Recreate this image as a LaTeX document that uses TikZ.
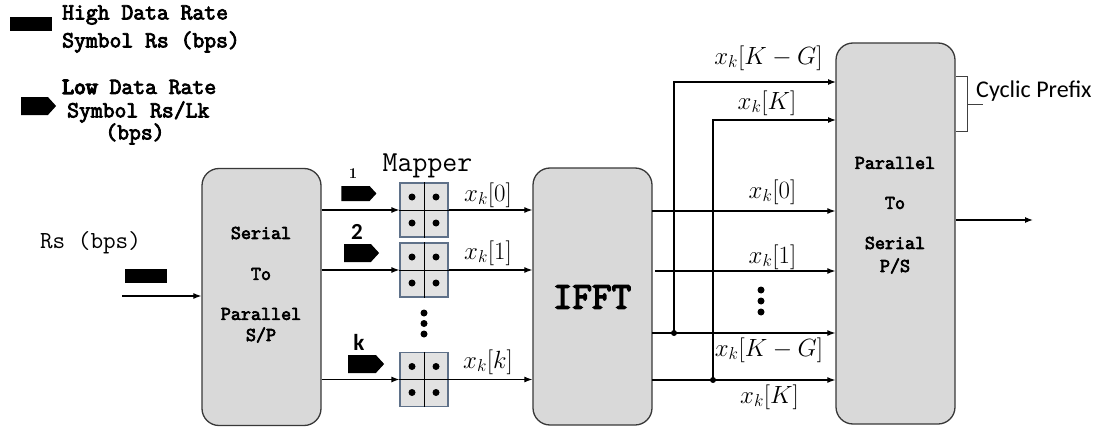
\documentclass[tikz,border=0pt]{standalone}
\usepackage{fontspec}
\newfontfamily\boldmono[FakeBold=3.5]{Latin Modern Mono}
\newfontfamily\heavymono[FakeBold=6]{Latin Modern Mono}
\newfontfamily\calib{Carlito}
\usetikzlibrary{arrows.meta,shapes.symbols}
\definecolor{boxgray}{HTML}{D9D9D9}
\definecolor{mapgray}{HTML}{E2E2E2}
\definecolor{mapblue}{HTML}{5F7189}
\begin{document}
\begin{tikzpicture}[x=1pt,y=-1pt,
 arr/.style={line width=1.2pt, -{Latex[length=8pt,width=6pt]}},
 bigbox/.style={draw=black!78, fill=boxgray, line width=1.3pt, rounded corners=17pt, minimum width=119pt, minimum height=257pt, inner sep=0pt},
 boxlbl/.style={font=\boldmono\fontsize{19.5}{22}\selectfont, inner sep=0pt},
 mapbox/.style={draw=mapblue, fill=mapgray, line width=1.1pt, minimum width=48pt, minimum height=54pt, inner sep=0pt},
 sig/.style={signal, signal to=east, fill=black, draw=none, inner sep=0pt, signal pointer angle=95},
 mlabel/.style={font=\fontsize{24.5}{28}\selectfont, inner sep=0pt},
 legtxt/.style={font=\boldmono\fontsize{23}{26}\selectfont, inner sep=0pt, anchor=west},
 jdot/.style={circle, fill=black, inner sep=0pt, minimum size=6pt},
 vdot/.style={circle, fill=black, inner sep=0pt, minimum size=7pt},
 qdot/.style={circle, fill=black, inner sep=0pt, minimum size=7pt},
]
\useasboundingbox (0,0) rectangle (1114,428);

% ---------- legend ----------
\node[fill=black, minimum width=42pt, minimum height=14pt, inner sep=0pt] (lbar) at (31,24) {};
\node[legtxt] (lt1) at (62,15) {High Data Rate};
\node[legtxt] (lt2) at (62,42) {Symbol Rs (bps)};
\node[sig, minimum width=35pt, minimum height=18pt] (lsig) at (34.5,106) {};
\node[legtxt] (lt3) at (62,87) {{\heavymono Low} Data Rate};
\node[legtxt] (lt4) at (67,112) {Symbol Rs/Lk};
\node[legtxt, anchor=center] (lt5) at (135,134) {(bps)};

% ---------- input ----------
\node[font=\ttfamily\fontsize{24.5}{28}\selectfont, inner sep=0pt] (rs) at (90.5,243) {Rs (bps)};
\node[fill=black, minimum width=42pt, minimum height=14pt, inner sep=0pt] (ibar) at (146,276) {};
\coordinate (in) at (122,296);

% ---------- S/P ----------
\node[bigbox] (sp) at (261.5,297) {};
\node[boxlbl] (sp1) at (261,233) {Serial};
\node[boxlbl] (sp2) at (261,274) {To};
\node[boxlbl] (sp3) at (261,314) {Parallel};
\node[boxlbl] (sp4) at (261,335) {S/P};
\draw[arr] (in) -- (in -| sp.west);

% ---------- mappers ----------
\node[font=\ttfamily\fontsize{29}{32}\selectfont, inner sep=0pt] (maplbl) at (427.5,166) {Mapper};
\foreach \n/\y in {m1/210, m2/270, m3/379.5}{
  \node[mapbox] (\n) at (424,\y) {};
  \draw[line width=1pt] (\n.north) -- (\n.south) (\n.west) -- (\n.east);
  \node[qdot] at ([shift={(-12,-13)}]\n.center) {};
  \node[qdot] at ([shift={(12,-13)}]\n.center) {};
  \node[qdot] at ([shift={(-12,13)}]\n.center) {};
  \node[qdot] at ([shift={(12,13)}]\n.center) {};
}
\node[vdot] (md1) at (424,313) {};
\node[vdot] (md2) at (424,323.5) {};
\node[vdot] (md3) at (424,334) {};

\node[sig, minimum width=35pt, minimum height=15pt] (s1) at (355.5,193.5) {};
\node[sig, minimum width=35pt, minimum height=18pt] (s2) at (357.5,253) {};
\node[sig, minimum width=36pt, minimum height=18pt] (s3) at (362,364) {};
\node[font=\bfseries\fontsize{15}{18}\selectfont, inner sep=0pt] (n1) at (353,174) {1};
\node[font=\calib\bfseries\fontsize{23}{26}\selectfont, inner sep=0pt] (n2) at (357,232) {2};
\node[font=\calib\bfseries\fontsize{23}{26}\selectfont, inner sep=0pt] (n3) at (359,342) {k};

\foreach \n in {m1,m2,m3}{
  \draw[arr] (sp.east |- \n) -- (\n.west);
}

% ---------- IFFT ----------
\node[bigbox] (ifft) at (592.5,296.5) {};
\node[font=\boldmono\fontsize{38}{42}\selectfont, inner sep=0pt] (ifftl) at (592,297) {IFFT};
\foreach \n in {m1,m2,m3}{
  \draw[arr] (\n.east) -- (\n -| ifft.west);
}
\node[mlabel] (a0) at (488,195) {$x_k[0]$};
\node[mlabel] (a1) at (488,253) {$x_k[1]$};
\node[mlabel] (a2) at (488,362) {$x_k[k]$};

% ---------- P/S ----------
\node[bigbox, minimum height=381pt] (ps) at (895.5,233.5) {};
\node[boxlbl] (ps1) at (895,163) {Parallel};
\node[boxlbl] (ps2) at (895,203) {To};
\node[boxlbl] (ps3) at (895,243) {Serial};
\node[boxlbl] (ps4) at (895,266) {P/S};

\coordinate (r0) at (652,211);
\coordinate (r1) at (655,271);
\coordinate (r2) at (652,333);
\coordinate (r3) at (652,380);
\coordinate (j1) at (674,333);
\coordinate (j2) at (713,380);
\coordinate (cpa) at (836,82);
\coordinate (cpb) at (836,120);

\draw[arr] (r0) -- (r0 -| ps.west);
\draw[arr] (r1) -- (r1 -| ps.west);
\draw[arr] (r2) -- (r2 -| ps.west);
\draw[arr] (r3) -- (r3 -| ps.west);
\draw[arr] (j1) |- (cpa);
\draw[arr] (j2) |- (cpb);
\node[jdot] (jd1) at (j1) {};
\node[jdot] (jd2) at (j2) {};

\node[mlabel] (b1) at (768.5,58) {$x_k[K-G]$};
\node[mlabel] (b2) at (767,103) {$x_k[K]$};
\node[mlabel] (b3) at (772.5,192) {$x_k[0]$};
\node[mlabel] (b4) at (772.5,257) {$x_k[1]$};
\node[vdot] (pd1) at (761,290) {};
\node[vdot] (pd2) at (761,301) {};
\node[vdot] (pd3) at (761,312) {};
\node[mlabel] (b5) at (769,350) {$x_k[K-G]$};
\node[mlabel] (b6) at (769.5,397) {$x_k[K]$};

% ---------- output ----------
\coordinate (out) at (1033,220);
\draw[arr] (out -| ps.east) -- (out);

% ---------- cyclic prefix bracket ----------
\coordinate (cb1) at (956,77);
\coordinate (cb2) at (967,77);
\coordinate (cb3) at (967,131);
\coordinate (cb4) at (956,131);
\coordinate (cbm) at (967,104);
\coordinate (cbt) at (983,104);
\draw[line width=1pt, draw=black!75] (cb1) -- (cb2) -- (cb3) -- (cb4);
\draw[line width=1pt, draw=black!75] (cbm) -- (cbt);
\node[font=\calib\fontsize{24}{28}\selectfont, inner sep=0pt, anchor=west] (cp) at (976,91) {Cyclic Prefix};
\end{tikzpicture}
\end{document}
